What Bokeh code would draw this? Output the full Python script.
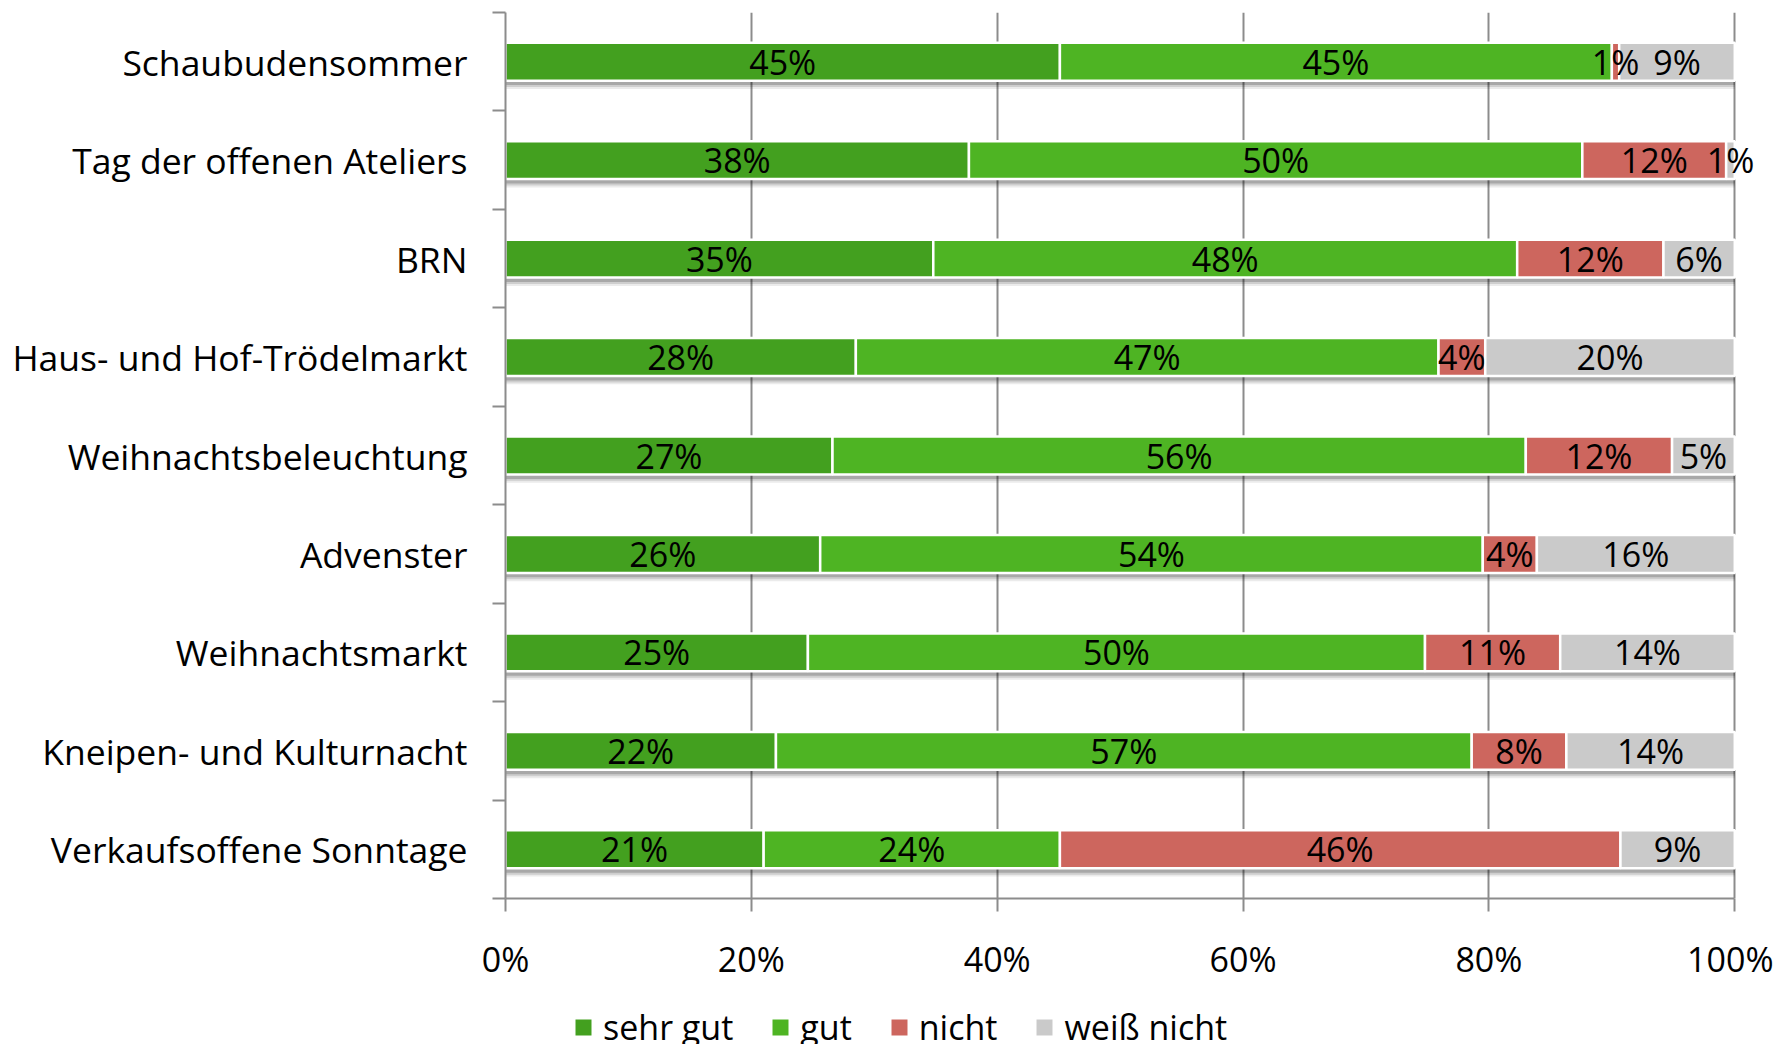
from bokeh.plotting import figure
from bokeh.layouts import column
from bokeh.models import (ColumnDataSource, FixedTicker, PrintfTickFormatter, Legend, LegendItem,
                          Range1d, LabelSet)
from bokeh.embed import file_html
from bokeh.resources import INLINE
from bokeh.core.properties import value

categories = ["Schaubudensommer", "Tag der offenen Ateliers", "BRN",
              "Haus- und Hof-Trödelmarkt", "Weihnachtsbeleuchtung", "Advenster",
              "Weihnachtsmarkt", "Kneipen- und Kulturnacht", "Verkaufsoffene Sonntage"]
sehr_gut = [45.1, 37.7, 34.8, 28.5, 26.6, 25.6, 24.6, 22.0, 21.0]
gut = [44.9, 49.9, 47.5, 47.4, 56.4, 53.9, 50.2, 56.6, 24.1]
nicht = [0.6, 11.7, 11.9, 3.8, 11.9, 4.4, 11.0, 7.7, 45.6]
weiss_nicht = [9.4, 0.7, 5.8, 20.3, 5.1, 16.1, 14.2, 13.7, 9.3]
series_names = ["sehr gut", "gut", "nicht", "weiß nicht"]
series_colors = ["#43A01F", "#4EB423", "#CD665E", "#CACACA"]
x_ticks = [0, 20, 40, 60, 80, 100]

FONT = "Open Sans"
GRAY = "#8C8C8C"
n = len(categories)
ys = [n - i for i in range(n)]

# the x range runs a little past 100% so the "1%" label at the right edge is not clipped;
# axis line and grid stop at 100%
p = figure(width=1773, height=1000, output_backend="svg", toolbar_location=None,
           x_range=Range1d(0, 102.5), y_range=Range1d(0.5, n + 0.5),
           min_border_left=505, min_border_right=8, min_border_top=12, min_border_bottom=102)
p.outline_line_color = None
p.background_fill_color = "white"

# grid
p.ygrid.grid_line_color = None
p.xgrid.ticker = FixedTicker(ticks=x_ticks)
p.xgrid.grid_line_color = GRAY
p.xgrid.grid_line_width = 2
p.xgrid.bounds = (0, 100)

# x axis
p.xaxis.bounds = (0, 100)
p.xaxis.ticker = FixedTicker(ticks=x_ticks)
p.xaxis.formatter = PrintfTickFormatter(format="%d%%")
p.xaxis.axis_line_color = GRAY
p.xaxis.axis_line_width = 2
p.xaxis.major_tick_line_color = GRAY
p.xaxis.major_tick_line_width = 2
p.xaxis.major_tick_out = 13
p.xaxis.major_tick_in = 0
p.xaxis.minor_tick_line_color = None
p.xaxis.major_label_text_font = FONT
p.xaxis.major_label_text_font_size = "34px"
p.xaxis.major_label_text_color = "black"
p.xaxis.major_label_standoff = 24

# y axis
p.yaxis.ticker = FixedTicker(ticks=ys, minor_ticks=[k + 0.5 for k in range(n + 1)])
p.yaxis.major_label_overrides = {y: c for y, c in zip(ys, categories)}
p.yaxis.axis_line_color = GRAY
p.yaxis.axis_line_width = 2
p.yaxis.major_tick_line_color = None
p.yaxis.major_tick_out = 0
p.yaxis.major_tick_in = 0
p.yaxis.minor_tick_line_color = GRAY
p.yaxis.minor_tick_line_width = 2
p.yaxis.minor_tick_out = 13
p.yaxis.minor_tick_in = 0
p.yaxis.major_label_text_font = FONT
p.yaxis.major_label_text_font_size = "35.5px"
p.yaxis.major_label_text_color = "black"
p.yaxis.major_label_standoff = 25

bar_h = 0.385
series = [sehr_gut, gut, nicht, weiss_nicht]
totals = [sum(s[i] for s in series) for i in range(n)]

# soft shadow under each bar
for off, alpha in [(0.085, 0.08), (0.065, 0.12), (0.045, 0.18)]:
    p.hbar(y=[y - off for y in ys], left=[0] * n, right=totals, height=bar_h,
           fill_color="#000000", fill_alpha=alpha, line_color=None)

left = [0.0] * n
sources = []
for name, vals, col in zip(series_names, series, series_colors):
    right = [l + v for l, v in zip(left, vals)]
    src = ColumnDataSource(dict(y=ys, left=left, right=right,
                                cx=[(l + r) / 2 for l, r in zip(left, right)],
                                lab=[f"{round(v):.0f}%" for v in vals]))
    p.hbar(y="y", left="left", right="right", height=bar_h, source=src,
           fill_color=col, line_color="white", line_width=2.5)
    sources.append(src)
    left = right

for src in sources:
    p.add_layout(LabelSet(x="cx", y="y", text="lab", source=src, text_font=value(FONT),
                          text_font_size="34px", text_align="center", text_baseline="middle",
                          text_color="black"))

# legend strip below the chart (its frame is aligned with the chart's frame)
lg = figure(width=1773, height=44, output_backend="svg", toolbar_location=None,
            x_range=Range1d(0, 1), y_range=Range1d(0, 1),
            min_border_left=505, min_border_right=8, min_border_top=0, min_border_bottom=0)
lg.axis.visible = False
lg.grid.visible = False
lg.outline_line_color = None
items = []
for name, col in zip(series_names, series_colors):
    # legend proxies: a single zero-width bar outside the visible range
    dr = lg.hbar(y=[-5], left=[0], right=[0], height=0.5, fill_color=col, line_color=None)
    items.append(LegendItem(label=name, renderers=[dr]))
legend = Legend(items=items, orientation="horizontal", location=(68, -6),
                glyph_width=20, glyph_height=20, label_standoff=10, spacing=37,
                padding=0, margin=0, border_line_color=None, background_fill_alpha=0,
                label_text_font=FONT, label_text_font_size="34px", label_text_color="black")
lg.add_layout(legend, "center")

open("out.html", "w").write(file_html(column(p, lg), INLINE))
